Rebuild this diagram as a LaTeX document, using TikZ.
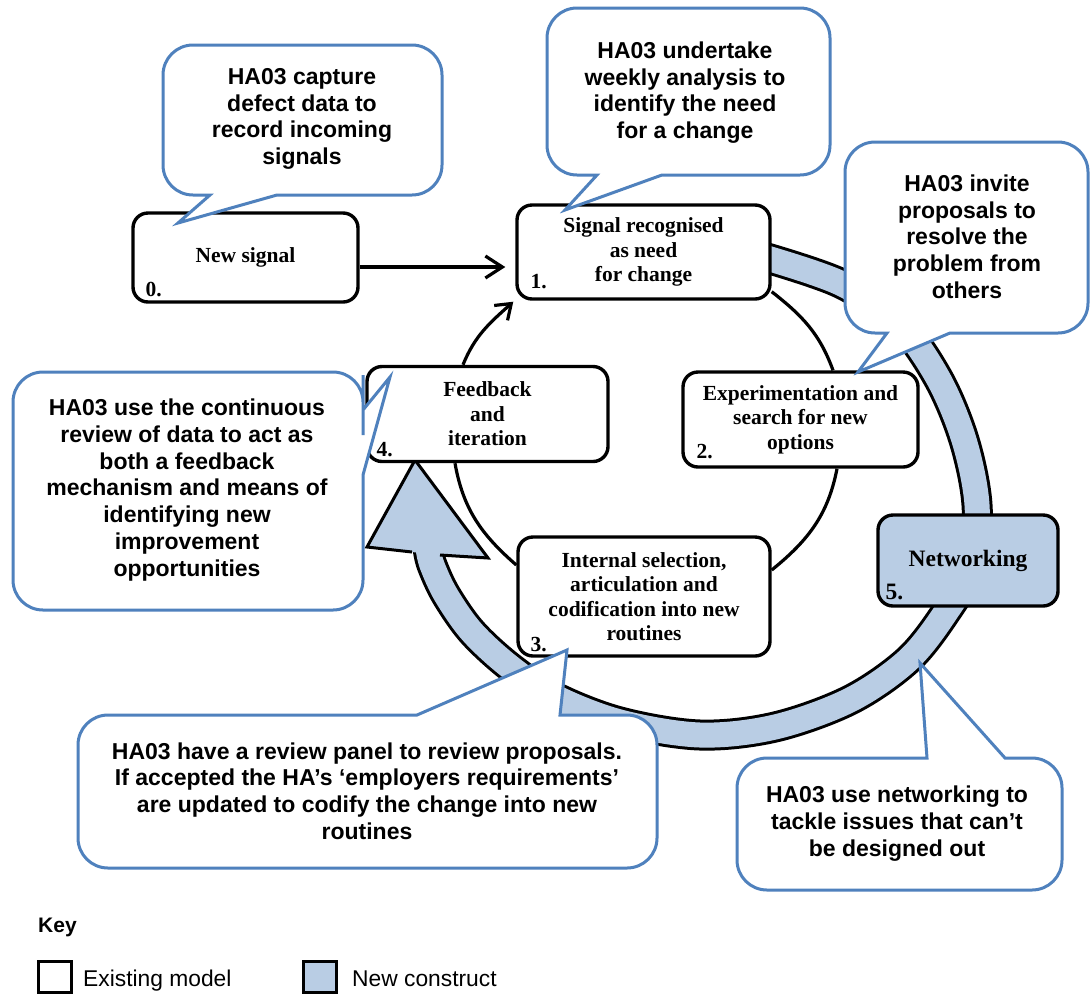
\documentclass[tikz,border=0pt]{standalone}
\usepackage{fontspec}
\setmainfont{Liberation Serif}
\setsansfont{Liberation Sans}
\usetikzlibrary{arrows.meta}
\pgfdeclarelayer{background}
\pgfsetlayers{background,main}
\definecolor{noteblue}{RGB}{79,129,189}
\definecolor{constructblue}{RGB}{185,205,228}

\begin{document}
\begin{tikzpicture}[x=1pt, y=-1pt,
  stagebox/.style={draw=black, line width=3.4pt, rounded corners=15pt, fill=white,
    align=center, inner sep=0pt, font=\rmfamily\bfseries\fontsize{21.5}{24.5}\selectfont},
  numlbl/.style={anchor=base west, inner sep=0pt, font=\rmfamily\bfseries\fontsize{21.5}{24.5}\selectfont},
  link/.style={draw=black, line width=3.2pt},
  note/.style={draw=noteblue, line width=3pt, fill=white, line join=miter},
  notetext/.style={align=center, inner sep=0pt, font=\sffamily\bfseries\fontsize{23}{26.7}\selectfont},
  keytext/.style={anchor=base west, inner sep=0pt, font=\sffamily\fontsize{22.8}{26}\selectfont},
  keybox/.style={draw=black, line width=3pt, minimum width=33pt, minimum height=31pt, inner sep=0pt},
]
\useasboundingbox (0,0) rectangle (1091,994);

% ---- stages of the cycle ----
\node[stagebox, minimum width=225pt, minimum height=89pt] (n0) at (245.5,257.5) {New signal};
\node[stagebox, minimum width=253pt, minimum height=94pt] (n1) at (643.5,252) {Signal recognised\\as need\\for change};
\node[stagebox, minimum width=235pt, minimum height=95pt] (n2) at (800.5,419.5) {Experimentation and\\search for new\\options};
\node[stagebox, minimum width=252pt, minimum height=119pt] (n3) at (644,596.5) {Internal selection,\\articulation and\\codification into new\\routines};
\node[stagebox, minimum width=241pt, minimum height=95pt] (n4) at (487.5,414) {Feedback\\and\\iteration};
\node[stagebox, fill=constructblue, minimum width=180pt, minimum height=91pt,
      font=\rmfamily\bfseries\fontsize{23.5}{26}\selectfont] (n5) at (968,560.5) {Networking};

\node[numlbl] (l0) at ([shift={(14,-7)}]n0.south west) {0.};
\node[numlbl] (l1) at ([shift={(15,-12)}]n1.south west) {1.};
\node[numlbl] (l2) at ([shift={(15,-10)}]n2.south west) {2.};
\node[numlbl] (l3) at ([shift={(14,-6)}]n3.south west) {3.};
\node[numlbl] (l4) at ([shift={(11,-7)}]n4.south west) {4.};
\node[numlbl, font=\rmfamily\bfseries\fontsize{23.5}{26}\selectfont] (l5) at ([shift={(9,-8)}]n5.south west) {5.};

\begin{pgfonlayer}{background}
  \fill[white] (0,0) rectangle (1091,994);
  % inner cycle
  \draw[link] ([shift={(0,-9)}]n1.south east) to[out=-38,in=110] ([shift={(32.5,0)}]n2.north);
  \draw[link] ([shift={(36.5,0)}]n2.south) to[out=-101,in=39] ([shift={(0,-26.5)}]n3.east);
  \draw[link] ([shift={(0,-31.5)}]n3.west) to[out=139,in=-80] ([shift={(-32.5,0)}]n4.south);
  \draw[link, -{Straight Barb[length=14pt,width=20pt]}] ([shift={(-24.5,0)}]n4.north)
        to[out=68,in=-138] ([shift={(-2,1)}]n1.south west);
  % outer networking band
  \draw[line width=31pt, black, postaction={draw=constructblue, line width=25pt}]
    plot[smooth, tension=0.55] coordinates {(760,256) (840,283) (898,322) (938,378) (964,440)
      (977,505) (972,565) (946,612) (908,660) (850,700) (775,727) (700,735) (620,722)
      (555,697) (510,667) (472,632) (446,595) (432,565) (428,548)};
  \fill[constructblue] (412,552) -- (367,547) -- (415,460) -- (488,558) -- (440,555) -- cycle;
  \draw[line width=3pt, line join=miter] (412,552) -- (367,547) -- (415,460) -- (488,558) -- (440,555);
\end{pgfonlayer}

% new signal enters the cycle
\draw[link, -{Straight Barb[length=17pt,width=22pt]}, shorten >=10pt]
  ([shift={(0,9.5)}]n0.east) -- ([shift={(0,15)}]n1.west);

% ---- callouts ----
\draw[note] (300,45) [rounded corners=30pt] -- (442,45) -- (442,195) -- (320,195) [sharp corners]
  -- (277,195) -- (178,223) -- (210,195) -- (200,195) [rounded corners=30pt] -- (163,195) -- (163,45) -- cycle;
\node[notetext] (tA) at (302,119) {HA03 capture\\defect data to\\record incoming\\signals};

\draw[note] (690,8) [rounded corners=30pt] -- (830,8) -- (830,175) -- (700,175) [sharp corners]
  -- (662,175) -- (565,210) -- (597,175) -- (585,175) [rounded corners=30pt] -- (547,175) -- (547,8) -- cycle;
\node[notetext] (tB) at (685,92.5) {HA03 undertake\\weekly analysis to\\identify the need\\for a change};

\draw[note] (965,142) [rounded corners=30pt] -- (1088,142) -- (1088,333) -- (990,333) [sharp corners]
  -- (950,333) -- (858,372) -- (887,333) -- (880,333) [rounded corners=30pt] -- (845,333) -- (845,142) -- cycle;
\node[notetext] (tC) at (967,236.5) {HA03 invite\\proposals to\\resolve the\\problem from\\others};

\draw[note] (190,372) [rounded corners=30pt] -- (363,372) -- (363,405) [sharp corners]
  -- (363,410) -- (390,377) -- (363,475) -- (363,480) [rounded corners=30pt] -- (363,610) -- (13,610) -- (13,372) -- cycle;
\node[notetext] (tD) at (187,490) {HA03 use the continuous\\review of data to act as\\both a feedback\\mechanism and means of\\identifying new\\improvement\\opportunities};

\draw[note] (367,868) [rounded corners=30pt] -- (78,868) -- (78,715) -- (380,715) [sharp corners]
  -- (417,715) -- (567,650) -- (560,715) -- (600,715) [rounded corners=30pt] -- (657,715) -- (657,868) -- cycle;
\node[notetext] (tE) at (367,791) {HA03 have a review panel to review proposals.\\If accepted the HA’s ‘employers requirements’\\are updated to codify the change into new\\routines};

\draw[note] (900,890) [rounded corners=30pt] -- (737,890) -- (737,758) -- (890,758) [sharp corners]
  -- (927,758) -- (920,663) -- (1005,758) -- (1020,758) [rounded corners=30pt] -- (1062,758) -- (1062,890) -- cycle;
\node[notetext] (tF) at (897,823.5) {HA03 use networking to\\tackle issues that can’t\\be designed out};

% ---- key ----
\node[anchor=base west, inner sep=0pt, font=\sffamily\bfseries\fontsize{21}{24}\selectfont] (keytitle) at (38,932) {Key};
\node[keybox] (k1) at (55,977) {};
\node[keytext] (k1t) at (83,986) {Existing model};
\node[keybox, fill=constructblue] (k2) at (320,977) {};
\node[keytext] (k2t) at (352,986) {New construct};

\end{tikzpicture}
\end{document}
